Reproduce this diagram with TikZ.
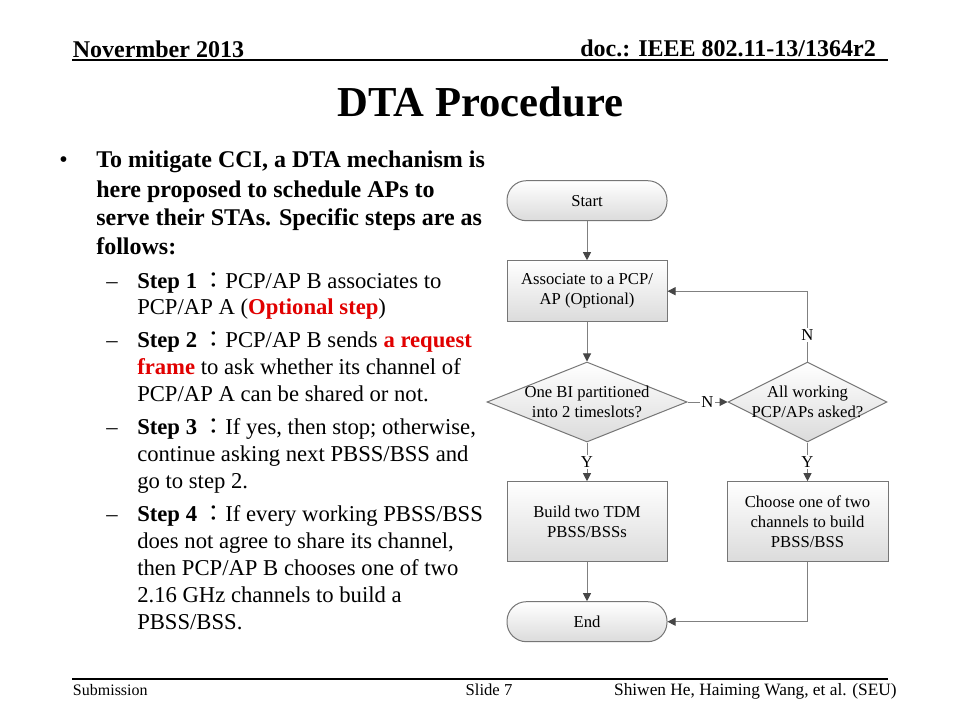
\documentclass[tikz,border=0pt]{standalone}
\usepackage{fontspec}
\setmainfont{Liberation Serif}
\newfontfamily\cjk{Noto Sans CJK TC}
\usetikzlibrary{arrows.meta,shapes.geometric}
\definecolor{slidered}{RGB}{225,0,0}
\definecolor{linegray}{RGB}{128,128,128}
\definecolor{arrowgray}{RGB}{70,70,70}
\definecolor{bordergray}{RGB}{118,118,118}
\newcommand{\flowfont}{\fontsize{12.5}{15}\selectfont}
\newcommand{\stepfont}{\fontsize{17}{20.25}\selectfont}
\begin{document}
\begin{tikzpicture}[x=0.75pt,y=-0.75pt,
  fshade/.style={draw=bordergray, line width=0.75pt, top color=white, bottom color=black!14, align=center, font=\flowfont},
  procbox/.style={fshade, rectangle, minimum width=120pt},
  termbox/.style={fshade, rectangle, rounded corners=14.5pt, minimum width=120pt, minimum height=30pt},
  decision/.style={fshade, diamond, inner xsep=-30pt, inner ysep=-12pt, minimum height=60pt},
  conn/.style={draw=linegray, line width=0.75pt, -{Triangle[length=6pt,width=6pt,color=arrowgray]}},
  lab/.style={fill=white, inner sep=1pt, font=\flowfont},
  rule/.style={draw=black, line width=1.2pt},
  para/.style={anchor=base west, align=left, inner sep=0pt, text=black},
  steptext/.style={para, font=\stepfont}
]
\useasboundingbox (0,0) rectangle (960,720);
\fill[white] (0,0) rectangle (960,720);

% header
\node[para, font=\fontsize{18}{22}\bfseries\selectfont] (date) at (72.5,57.3) {Novermber 2013};
\node[anchor=base east, inner sep=0pt, font=\fontsize{18}{22}\bfseries\selectfont] (doc) at (876,56.7) {doc.: IEEE 802.11-13/1364r2};
\coordinate (hl) at (72,60);
\coordinate (hr) at (888,60);
\draw[rule] (hl) -- (hr);

% title
\node[anchor=base, inner sep=0pt, font=\fontsize{32}{38}\bfseries\selectfont] (title) at (480.5,117) {DTA Procedure};

% left text (multi-line nodes are placed by the baseline of their last line)
\node[para, font=\fontsize{18}{21.75}\selectfont] (bullet) at (59,168) {•};
\node[para, font=\fontsize{18}{21.75}\bfseries\selectfont] (intro) at (96,255)
  {To mitigate CCI, a DTA mechanism is\\here proposed to schedule APs to\\serve their STAs. Specific steps are as\\follows:};

\node[steptext] (d1) at (106,288) {–};
\node[steptext] (s1) at (137,315)
  {\textbf{Step 1 }{\cjk ：}PCP/AP B associates to\\PCP/AP A (\textcolor{slidered}{\textbf{Optional step}})};
\node[steptext] (d2) at (106,347.2) {–};
\node[steptext] (s2) at (137,401.2)
  {\textbf{Step 2 }{\cjk ：}PCP/AP B sends \textcolor{slidered}{\textbf{a request}}\\\textcolor{slidered}{\textbf{frame}} to ask whether its channel of\\PCP/AP A can be shared or not.};
\node[steptext] (d3) at (106,434) {–};
\node[steptext] (s3) at (137,488)
  {\textbf{Step 3 }{\cjk ：}If yes, then stop; otherwise,\\continue asking next PBSS/BSS and\\go to step 2.};
\node[steptext] (d4) at (106,521.5) {–};
\node[steptext] (s4) at (137,629.5)
  {\textbf{Step 4 }{\cjk ：}If every working PBSS/BSS\\does not agree to share its channel,\\then PCP/AP B chooses one of two\\2.16 GHz channels to build a\\PBSS/BSS.};

% flowchart
\node[termbox] (start) at (587,200.7) {Start};
\node[procbox, minimum height=45.75pt] (assoc) at (587,291.2) {Associate to a PCP/\\AP (Optional)};
\node[decision, minimum width=150pt] (dec1) at (587,402) {One BI partitioned\\into 2 timeslots?};
\node[decision, minimum width=119.25pt] (dec2) at (807.5,402) {All working\\PCP/APs asked?};
\node[procbox, minimum height=60pt] (build) at (587,521.7) {Build two TDM\\PBSS/BSSs};
\node[procbox, minimum width=120.75pt, minimum height=60pt] (choose) at (807.5,521.7) {Choose one of two\\channels to build\\PBSS/BSS};
\node[termbox] (end) at (587,621.7) {End};

\draw[conn] (start) -- (assoc);
\draw[conn] (assoc) -- (dec1);
\draw[conn] (dec1.east) -- node[lab] {N} (dec2.west);
\draw[conn] (dec2.north) |- node[lab, pos=0.19] {N} (assoc.east);
\draw[conn] (dec1.south) -- node[lab] {Y} (build.north);
\draw[conn] (dec2.south) -- node[lab] {Y} (choose.north);
\draw[conn] (build) -- (end);
\draw[conn] (choose.south) |- (end.east);

% footer
\coordinate (fl) at (72,679);
\coordinate (fr) at (888,679);
\draw[rule] (fl) -- (fr);
\node[para, font=\fontsize{12}{14}\selectfont] (sub) at (72.7,695.3) {Submission};
\node[anchor=base, inner sep=0pt, font=\fontsize{12.5}{14}\selectfont] (slide) at (489,695) {Slide 7};
\node[anchor=base east, inner sep=0pt, font=\fontsize{13}{15}\selectfont] (auth) at (897,695.3) {Shiwen He, Haiming Wang, et al. (SEU)};
\end{tikzpicture}
\end{document}
